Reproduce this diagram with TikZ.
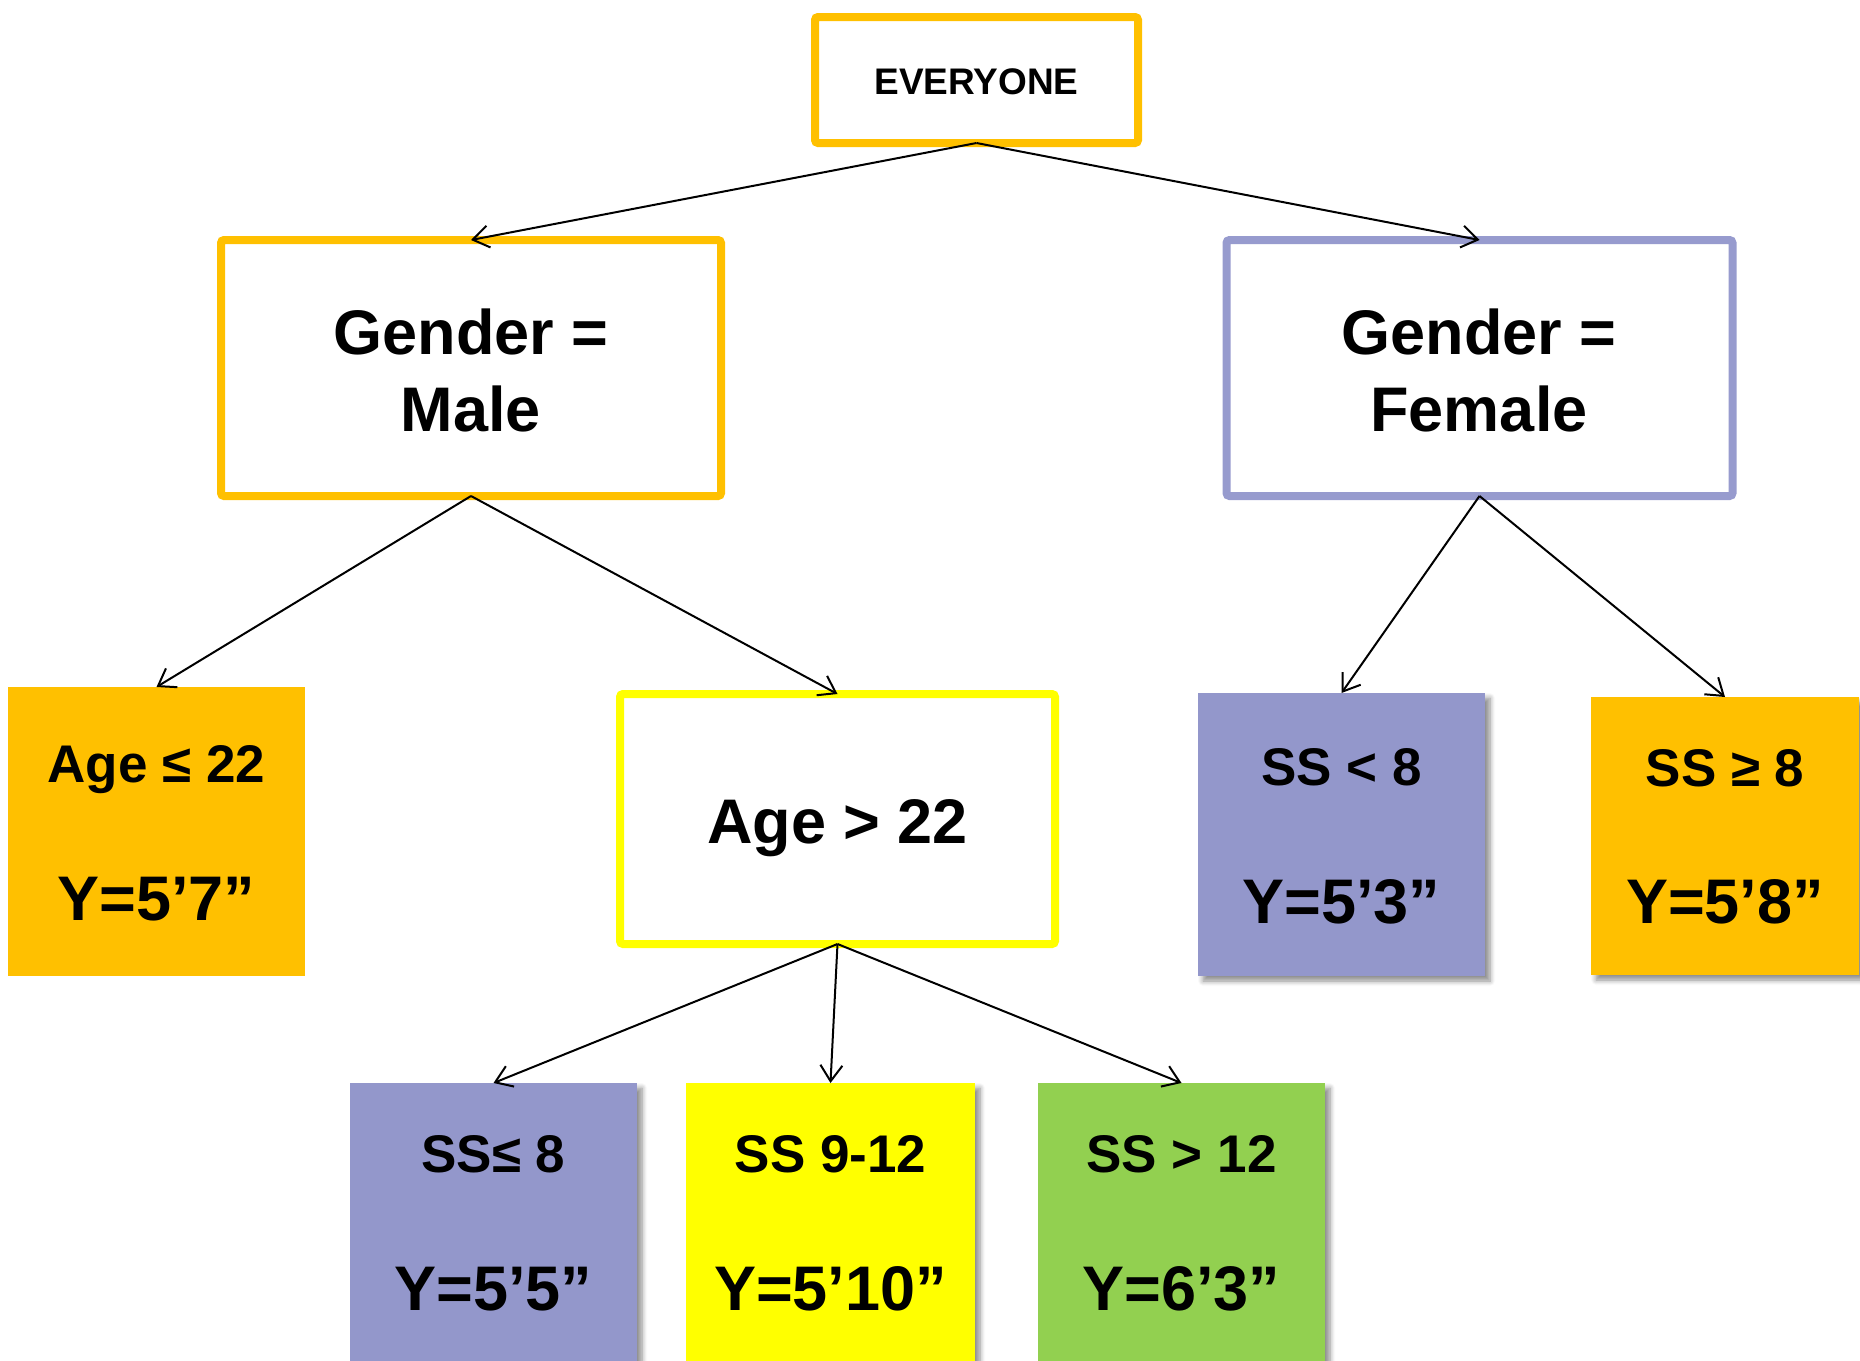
\documentclass[tikz,border=0pt]{standalone}
\usepackage{fontspec}
\setmainfont{Liberation Sans}
\usetikzlibrary{arrows.meta,shadows.blur}
\definecolor{gold}{HTML}{FFC000}
\definecolor{lav}{HTML}{9397CB}
\definecolor{lavline}{HTML}{979BCE}
\definecolor{yel}{HTML}{FFFF00}
\definecolor{grn}{HTML}{92D050}
\tikzset{
 box/.style={draw, inner sep=0pt, outer sep=0pt, fill=white, rounded corners=1.5pt, line width=4pt},
 leaf/.style={inner sep=0pt, outer sep=0pt},
 shad/.style={blur shadow={shadow xshift=2.5pt, shadow yshift=-2.5pt, shadow blur steps=6, shadow blur radius=2.5pt, shadow opacity=45}},
 conn/.style={draw=black, line width=1pt, -{Straight Barb[length=8pt,width=11pt]}},
 tA/.style={anchor=base, font=\bfseries\fontsize{26.5}{30}\selectfont, inner sep=0pt},
 tB/.style={anchor=base, font=\bfseries\fontsize{31.5}{36}\selectfont, inner sep=0pt},
 tS/.style={anchor=base, font=\bfseries\fontsize{18.5}{22}\selectfont, inner sep=0pt},
}
\begin{document}
\begin{tikzpicture}[x=0.5pt,y=-0.5pt]
\useasboundingbox (0,0) rectangle (1860,1361);
% outlined boxes
\node[box, draw=gold, minimum width=161.5pt, minimum height=63pt] (ev) at (976.5,80) {};
\node[box, draw=gold, minimum width=250pt, minimum height=128pt] (male) at (471,368) {};
\node[box, draw=lavline, minimum width=253pt, minimum height=128pt] (female) at (1479.5,368) {};
\node[box, draw=yel, minimum width=217.5pt, minimum height=125pt] (age2) at (837.5,819) {};
% filled boxes
\node[leaf, fill=gold, minimum width=148.5pt, minimum height=144.5pt] (age1) at (156.5,831.5) {};
\node[leaf, shad, fill=lav, minimum width=143.5pt, minimum height=141.5pt] (ss1) at (1341.5,834.5) {};
\node[leaf, shad, fill=gold, minimum width=134pt, minimum height=139pt] (ss2) at (1725,836) {};
\node[leaf, shad, fill=lav, minimum width=143.5pt, minimum height=145pt] (b1) at (493.5,1228) {};
\node[leaf, shad, fill=yel, minimum width=144.5pt, minimum height=145pt] (b2) at (830.5,1228) {};
\node[leaf, shad, fill=grn, minimum width=143.5pt, minimum height=145pt] (b3) at (1181.5,1228) {};
% texts
\node[tS] (evt) at (976.5,94.5) {EVERYONE};
\node[tB] (malet1) at (471,354) {Gender =};
\node[tB] (malet2) at (471,431) {Male};
\node[tB] (femt1) at (1479,354) {Gender =};
\node[tB] (femt2) at (1479,431) {Female};
\node[tB] (age2t) at (837.5,843) {Age > 22};
\node[tA] (age1t1) at (156.5,782) {Age ≤ 22};
\node[tB] (age1t2) at (156.5,920) {Y=5’7”};
\node[tA] (ss1t1) at (1341.5,785) {SS < 8};
\node[tB] (ss1t2) at (1341.5,923) {Y=5’3”};
\node[tA] (ss2t1) at (1725,786) {SS ≥ 8};
\node[tB] (ss2t2) at (1725,923) {Y=5’8”};
\node[tA] (b1t1) at (493.5,1172) {SS≤ 8};
\node[tB] (b1t2) at (493.5,1310) {Y=5’5”};
\node[tA] (b2t1) at (830.5,1172) {SS 9-12};
\node[tB] (b2t2) at (830.5,1310) {Y=5’10”};
\node[tA] (b3t1) at (1181.5,1172) {SS > 12};
\node[tB] (b3t2) at (1181.5,1310) {Y=6’3”};
% connectors
\draw[conn] (ev.south) -- (male.north);
\draw[conn] (ev.south) -- (female.north);
\draw[conn] (male.south) -- (age1.north);
\draw[conn] (male.south) -- (age2.north);
\draw[conn] (female.south) -- (ss1.north);
\draw[conn] (female.south) -- (ss2.north);
\draw[conn] (age2.south) -- (b1.north);
\draw[conn] (age2.south) -- (b2.north);
\draw[conn] (age2.south) -- (b3.north);
\end{tikzpicture}
\end{document}
